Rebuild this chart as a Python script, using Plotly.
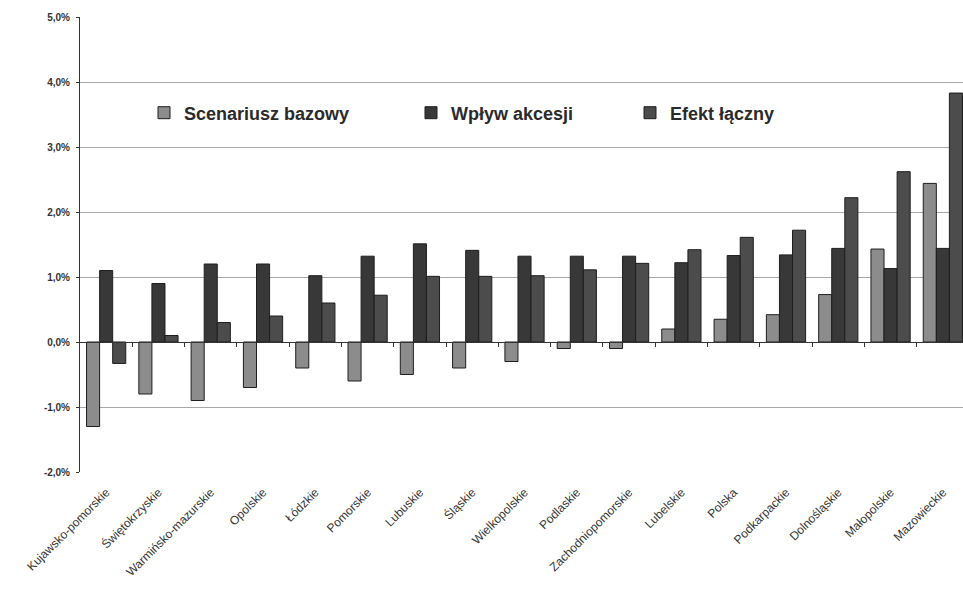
import plotly.graph_objects as go

categories = ["Kujawsko-pomorskie", "Świętokrzyskie", "Warmińsko-mazurskie", "Opolskie",
              "Łódzkie", "Pomorskie", "Lubuskie", "Śląskie", "Wielkopolskie", "Podlaskie",
              "Zachodniopomorskie", "Lubelskie", "Polska", "Podkarpackie", "Dolnośląskie",
              "Małopolskie", "Mazowieckie"]

scenariusz_bazowy = [-1.3, -0.8, -0.9, -0.7, -0.4, -0.6, -0.5, -0.4, -0.3, -0.1,
                     -0.1, 0.2, 0.35, 0.42, 0.73, 1.43, 2.44]
wplyw_akcesji = [1.1, 0.9, 1.2, 1.2, 1.02, 1.32, 1.51, 1.41, 1.32, 1.32,
                 1.32, 1.22, 1.33, 1.34, 1.44, 1.13, 1.44]
efekt_laczny = [-0.33, 0.1, 0.3, 0.4, 0.6, 0.72, 1.01, 1.01, 1.02, 1.11,
                1.21, 1.42, 1.61, 1.72, 2.22, 2.62, 3.83]

series_names = ["Scenariusz bazowy", "Wpływ akcesji", "Efekt łączny"]
y_tick_vals = [-2, -1, 0, 1, 2, 3, 4, 5]
y_tick_text = [f"{v:.1f}%".replace(".", ",") for v in y_tick_vals]

colors = ["#8c8c8c", "#383838", "#4c4c4c"]
legends = ["legend", "legend2", "legend3"]

fig = go.Figure()
for name, vals, col, lg in zip(series_names, [scenariusz_bazowy, wplyw_akcesji, efekt_laczny], colors, legends):
    fig.add_trace(go.Bar(
        x=categories, y=vals, name=name, legend=lg,
        marker=dict(color=col, line=dict(color="#1e1e1e", width=1)),
    ))

# helper axis drawn along the zero line with category-boundary ticks
idx = list(range(len(categories)))
fig.add_trace(go.Scatter(x=idx, y=[None] * len(idx), xaxis="x2", showlegend=False,
                         hoverinfo="skip", mode="markers"))

xr = [-0.5, 16.385]
leg_font = dict(size=18, weight="bold", color="#2a2a2a")
leg_y = 1 - (113 - 17) / 455
fig.update_layout(
    width=963, height=589,
    margin=dict(l=80, r=0, t=17, b=117),
    paper_bgcolor="white", plot_bgcolor="white",
    barmode="group", bargap=0.25, bargroupgap=0,
    font=dict(family="Liberation Sans, Arial, sans-serif", color="#2a2a2a"),
    xaxis=dict(type="category", range=xr, showgrid=False, showline=False, zeroline=False,
               tickangle=-45, tickfont=dict(size=12, color="#333333"), ticks="",
               ticklabelstandoff=10),
    xaxis2=dict(overlaying="x", anchor="free", position=2 / 7, range=xr, side="bottom",
                showline=True, linecolor="#333333", linewidth=1, showgrid=False,
                zeroline=False, showticklabels=False, ticks="outside", ticklen=4,
                tickcolor="#333333", tickmode="array",
                tickvals=[i + 0.5 for i in idx]),
    yaxis=dict(range=[-2, 5], tickmode="array", tickvals=y_tick_vals, ticktext=y_tick_text,
               showgrid=True, gridcolor="#a8a8a8", gridwidth=1, zeroline=False,
               showline=True, linecolor="#333333", linewidth=1, ticks="outside", ticklen=3,
               tickcolor="#333333", tickfont=dict(size=10, color="#333333", weight="bold"),
               ticklabelstandoff=4),
    legend=dict(x=(144 - 80) / 883, y=leg_y, xanchor="left", yanchor="middle",
                font=leg_font, bgcolor="rgba(0,0,0,0)"),
    legend2=dict(x=(411 - 80) / 883, y=leg_y, xanchor="left", yanchor="middle",
                 font=leg_font, bgcolor="rgba(0,0,0,0)"),
    legend3=dict(x=(630 - 80) / 883, y=leg_y, xanchor="left", yanchor="middle",
                 font=leg_font, bgcolor="rgba(0,0,0,0)"),
)

fig.write_html("out.html")
